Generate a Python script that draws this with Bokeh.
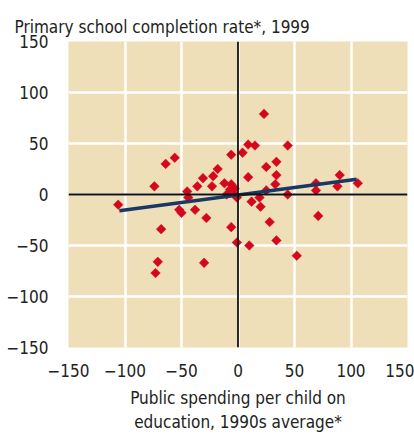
import math
from bokeh.plotting import figure
from bokeh.models import Span, Range1d, FixedTicker, ColumnDataSource
from bokeh.embed import file_html
from bokeh.resources import INLINE

# Country deviations from expected values
spending = [-106, -74, -64, -56, -45, -44, -36, -31, -23, -22, -18, -12, -6, -7, -3,
            -10, -3, -1, -6, 4, -52, -50, -38, -28, -68, -71, -73, -30, -6, -1,
            9, 15, 23, 44, 25, 34, 9, 34, 33, 25, 44, 69, 69, 90, 88, 106,
            12, 19, 20, 28, 71, 10, 34, 52]
completion = [-10, 8, 30, 36, 3, -3, 8, 16, 8, 18, 25, 11, 10, 5, 6,
              0, 0, -3, 39, 41, -15, -18, -15, -23, -34, -66, -77, -67, -32, -47,
              49, 48, 79, 48, 27, 32, 17, 19, 10, 4, 0, 11, 4, 19, 8, 11,
              -7, -3, -12, -27, -21, -50, -45, -60]

# Fitted trend line endpoints
fit_x = [-105, 105]
fit_y = [-16, 15]

tick_values = [-150, -100, -50, 0, 50, 100, 150]
tick_labels = ["\u2212150", "\u2212100", "\u221250", "0", "50", "100", "150"]

FONT = "DejaVu Sans Condensed"

p = figure(width=414, height=434, output_backend="svg", toolbar_location=None,
           x_range=Range1d(-150, 150), y_range=Range1d(-150, 150),
           min_border_left=68, min_border_right=7, min_border_top=41,
           min_border_bottom=86, background_fill_color="#efdfb8",
           border_fill_color="white", outline_line_color=None)

p.title.text = "Primary school completion rate*, 1999"
p.title.align = "left"
p.title.offset = -54
p.title.text_font = FONT
p.title.text_font_size = "17px"
p.title.text_font_style = "normal"
p.title.text_color = "#222222"

for ax in (p.xaxis, p.yaxis):
    ax.ticker = FixedTicker(ticks=tick_values)
    ax.major_label_overrides = dict(zip(tick_values, tick_labels))
    ax.axis_line_color = None
    ax.major_tick_line_color = None
    ax.minor_tick_line_color = None
    ax.major_label_text_font = FONT
    ax.major_label_text_font_size = "17px"
    ax.major_label_text_color = "#222222"

p.yaxis.major_label_standoff = 14
p.xaxis.major_label_standoff = 10

p.xaxis.axis_label = "Public spending per child on\neducation, 1990s average*"
p.xaxis.axis_label_text_font = FONT
p.xaxis.axis_label_text_font_size = "17px"
p.xaxis.axis_label_text_font_style = "normal"
p.xaxis.axis_label_text_color = "#222222"
p.xaxis.axis_label_standoff = 8

p.grid.ticker = FixedTicker(ticks=tick_values)
p.grid.grid_line_color = "white"
p.grid.grid_line_width = 2.5

p.add_layout(Span(location=0, dimension="width", line_color="#111111", line_width=1.8))
p.add_layout(Span(location=0, dimension="height", line_color="#111111", line_width=1.8))

src = ColumnDataSource(dict(x=spending, y=completion))
p.scatter("x", "y", source=src, marker="square", size=6.8, angle=math.pi / 4,
          fill_color="#d6061c", line_color="#d6061c", line_width=0.5)

p.line(fit_x, fit_y, line_color="#1b3764", line_width=3.5)

open("out.html", "w").write(file_html(p, INLINE))
